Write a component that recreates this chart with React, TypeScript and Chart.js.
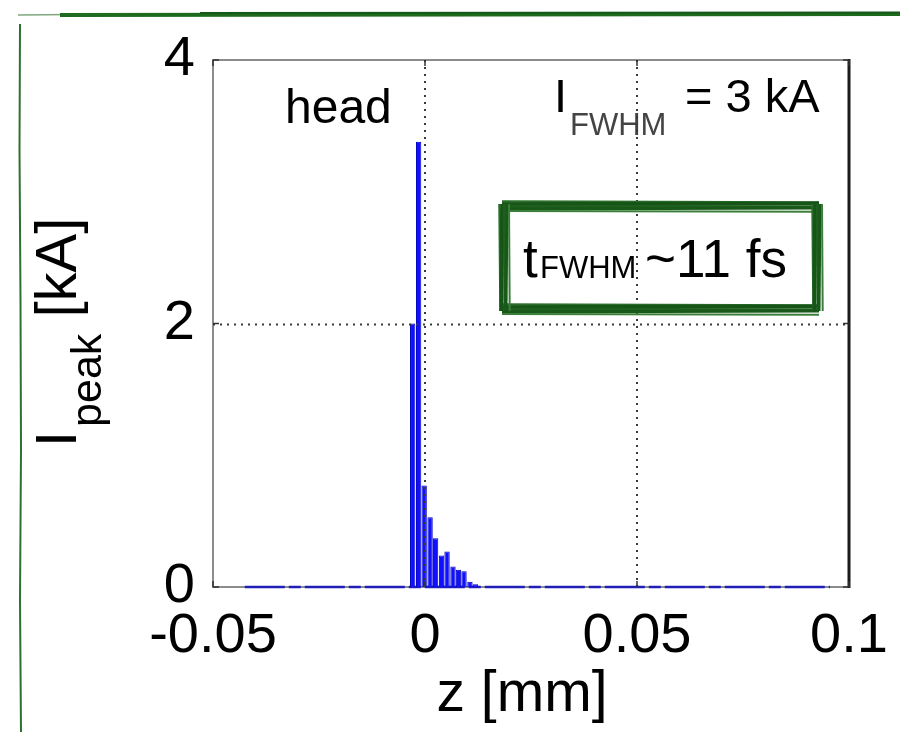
import React, { useEffect, useRef } from 'react';
import { Chart, registerables } from 'chart.js';

Chart.register(...registerables);

// ---- data ----
const zCenters = [-0.0029, -0.0015, -0.0002, 0.0012, 0.0025, 0.0039, 0.0052, 0.0066, 0.0079, 0.0092, 0.0106, 0.0119];
const peakCurrent = [2.0, 3.38, 0.77, 0.53, 0.37, 0.24, 0.27, 0.155, 0.13, 0.12, 0.04, 0.02];
const baselineZ = [-0.0425, 0.0955];
const baselineI = [0, 0];
const xTickValues = [-0.05, 0, 0.05, 0.1];
const xTickLabels = ['-0.05', '0', '0.05', '0.1'];
const yTickValues = [0, 2, 4];
const yTickLabels = ['0', '2', '4'];
const xGridValues = [0, 0.05];
const yGridValues = [2];

const FONT = "'Liberation Sans', Arial, Helvetica, sans-serif";

function roughEdge(ctx: CanvasRenderingContext2D, x1: number, y1: number, x2: number, y2: number) {
  const horiz = Math.abs(y2 - y1) < Math.abs(x2 - x1);
  const strokes = [
    { o: -4.5, w: 2.5, c: '#2a6e2a', t: 1 },
    { o: -2, w: 3.5, c: '#175417', t: -0.8 },
    { o: 0.5, w: 3.5, c: '#1e5f1e', t: 0.6 },
    { o: 3, w: 3, c: '#185818', t: -1 },
    { o: 5, w: 2, c: '#3a7e3a', t: 0.7 },
  ];
  strokes.forEach((s) => {
    ctx.strokeStyle = s.c;
    ctx.lineWidth = s.w;
    ctx.beginPath();
    if (horiz) {
      ctx.moveTo(x1 - 2, y1 + s.o);
      ctx.lineTo(x2 + 2, y2 + s.o + s.t);
    } else {
      ctx.moveTo(x1 + s.o, y1 - 2);
      ctx.lineTo(x2 + s.o + s.t, y2 + 2);
    }
    ctx.stroke();
  });
}

const axesBox = {
  id: 'axesBox',
  beforeDatasetsDraw(chart: any) {
    const { ctx, chartArea: a } = chart;
    ctx.save();
    ctx.strokeStyle = '#8c8c8c';
    ctx.lineWidth = 2;
    ctx.beginPath();
    ctx.moveTo(a.right, a.top);
    ctx.lineTo(a.left, a.top);
    ctx.lineTo(a.left, a.bottom);
    ctx.lineTo(a.right, a.bottom);
    ctx.stroke();
    ctx.restore();
  },
};

const overlay = {
  id: 'overlay',
  afterDatasetsDraw(chart: any) {
    const { ctx, chartArea: a, scales } = chart;
    const x = scales.x;
    const y = scales.y;
    ctx.save();
    ctx.textAlign = 'left';
    ctx.textBaseline = 'alphabetic';

    // "head"
    ctx.fillStyle = '#000';
    ctx.font = `48px ${FONT}`;
    ctx.fillText('head', 285, 123);

    // I_FWHM = 3 kA
    ctx.font = `47px ${FONT}`;
    ctx.fillText('I', 554, 112);
    ctx.font = `31px ${FONT}`;
    ctx.fillStyle = '#444';
    ctx.fillText('FWHM', 570, 135);
    ctx.fillStyle = '#000';
    ctx.font = `47px ${FONT}`;
    ctx.fillText('= 3 kA', 685, 112);

    // box text t_FWHM ~11 fs
    ctx.font = `53px ${FONT}`;
    ctx.fillText('t', 523, 277);
    ctx.font = `31px ${FONT}`;
    ctx.fillText('FWHM', 540, 278);
    ctx.font = `53px ${FONT}`;
    ctx.fillText('~11 fs', 645, 277);

    // y axis title  I_peak [kA]
    ctx.save();
    ctx.translate(76, 447);
    ctx.rotate(-Math.PI / 2);
    ctx.font = `58px ${FONT}`;
    ctx.fillText('I', 0, 0);
    let off = ctx.measureText('I').width + 4;
    ctx.font = `43px ${FONT}`;
    ctx.fillText('peak', off, 25);
    off += ctx.measureText('peak').width;
    ctx.font = `58px ${FONT}`;
    ctx.fillText(' [kA]', off, 0);
    ctx.restore();

    // x axis title
    ctx.font = `57px ${FONT}`;
    ctx.textAlign = 'center';
    ctx.fillText('z [mm]', 522, 711);
    ctx.textAlign = 'left';

    // dotted grid
    ctx.strokeStyle = '#3a3a3a';
    ctx.lineWidth = 2;
    ctx.setLineDash([2, 5]);
    xGridValues.forEach((v) => {
      const px = Math.round(x.getPixelForValue(v));
      ctx.beginPath();
      ctx.moveTo(px, a.top);
      ctx.lineTo(px, a.bottom);
      ctx.stroke();
    });
    yGridValues.forEach((v) => {
      const py = Math.round(y.getPixelForValue(v)) + 0.5;
      ctx.beginPath();
      ctx.moveTo(a.left, py);
      ctx.lineTo(a.right, py);
      ctx.stroke();
    });
    ctx.setLineDash([]);

    // right axis (dark)
    ctx.strokeStyle = '#1a1a1a';
    ctx.lineWidth = 3;
    ctx.beginPath();
    ctx.moveTo(a.right, a.top - 1);
    ctx.lineTo(a.right, a.bottom + 1);
    ctx.stroke();

    // inward ticks
    ctx.strokeStyle = '#333';
    ctx.lineWidth = 1.5;
    xTickValues.forEach((v) => {
      const px = x.getPixelForValue(v);
      ctx.beginPath();
      ctx.moveTo(px, a.bottom);
      ctx.lineTo(px, a.bottom - 6);
      ctx.moveTo(px, a.top);
      ctx.lineTo(px, a.top + 6);
      ctx.stroke();
    });
    yTickValues.forEach((v) => {
      const py = y.getPixelForValue(v);
      ctx.beginPath();
      ctx.moveTo(a.left, py);
      ctx.lineTo(a.left + 6, py);
      ctx.moveTo(a.right, py);
      ctx.lineTo(a.right - 6, py);
      ctx.stroke();
    });

    // rough green box
    const bx1 = 504, by1 = 206, bx2 = 817, by2 = 309;
    roughEdge(ctx, bx1, by1, bx2, by1);
    roughEdge(ctx, bx1, by2, bx2, by2);
    roughEdge(ctx, bx1, by1, bx1, by2);
    roughEdge(ctx, bx2, by1, bx2, by2);

    // hand-drawn frame
    ctx.strokeStyle = '#1d6a1d';
    ctx.lineWidth = 4;
    ctx.beginPath();
    ctx.moveTo(60, 15);
    ctx.lineTo(900, 14);
    ctx.stroke();
    ctx.strokeStyle = '#14581a';
    ctx.lineWidth = 2;
    ctx.beginPath();
    ctx.moveTo(200, 13);
    ctx.lineTo(900, 12.5);
    ctx.stroke();
    ctx.strokeStyle = 'rgba(40,110,40,0.6)';
    ctx.lineWidth = 1.5;
    ctx.beginPath();
    ctx.moveTo(18, 15);
    ctx.lineTo(130, 14);
    ctx.stroke();
    ctx.strokeStyle = '#2f6f2f';
    ctx.lineWidth = 2;
    ctx.beginPath();
    ctx.moveTo(20, 24);
    ctx.lineTo(19.5, 150);
    ctx.lineTo(20.5, 300);
    ctx.lineTo(21, 450);
    ctx.lineTo(20, 600);
    ctx.lineTo(21, 732);
    ctx.stroke();

    ctx.restore();
  },
};

export default function App() {
  const ref = useRef<HTMLCanvasElement | null>(null);

  useEffect(() => {
    if (!ref.current) return;
    const chart = new Chart(ref.current, {
      type: 'bar',
      data: {
        datasets: [
          {
            type: 'bar',
            data: zCenters.map((z, i) => ({ x: z, y: peakCurrent[i] })),
            backgroundColor: '#1010ff',
            borderColor: '#0000c0',
            borderWidth: 1,
            barPercentage: 0.97,
            categoryPercentage: 1,
            order: 1,
          } as any,
          {
            type: 'line',
            data: baselineZ.map((z, i) => ({ x: z, y: baselineI[i] })),
            borderColor: '#2020b8',
            borderWidth: 2.5,
            borderDash: [40, 4, 12, 4],
            pointRadius: 0,
            clip: 6,
            order: 2,
          } as any,
        ],
      },
      options: {
        responsive: false,
        animation: false,
        layout: { padding: { top: 60, right: 51, left: 0, bottom: 0 } },
        plugins: {
          legend: { display: false },
          tooltip: { enabled: false },
          title: { display: false },
        },
        scales: {
          x: {
            type: 'linear',
            min: -0.05,
            max: 0.1,
            offset: false,
            grid: { display: false },
            border: { display: false },
            afterBuildTicks: (s: any) => {
              s.ticks = xTickValues.map((v) => ({ value: v }));
            },
            afterFit: (s: any) => {
              s.height = 145;
            },
            ticks: {
              autoSkip: false,
              maxRotation: 0,
              minRotation: 0,
              padding: 8,
              color: '#000',
              font: { family: FONT, size: 56 },
              callback: (_v: any, i: number) => xTickLabels[i],
            },
          },
          y: {
            type: 'linear',
            min: 0,
            max: 4,
            grid: { display: false },
            border: { display: false },
            afterBuildTicks: (s: any) => {
              s.ticks = yTickValues.map((v) => ({ value: v }));
            },
            afterFit: (s: any) => {
              s.width = 213;
            },
            ticks: {
              padding: 10,
              color: '#000',
              font: { family: FONT, size: 56 },
              callback: (_v: any, i: number) => yTickLabels[i],
            },
          },
        },
      } as any,
      plugins: [axesBox, overlay],
    });
    return () => chart.destroy();
  }, []);

  return (
    <div style={{ position: 'fixed', left: 0, top: 0, width: 900, height: 732, background: '#fff' }}>
      <canvas ref={ref} width={900} height={732} style={{ display: 'block', width: 900, height: 732 }} />
    </div>
  );
}
